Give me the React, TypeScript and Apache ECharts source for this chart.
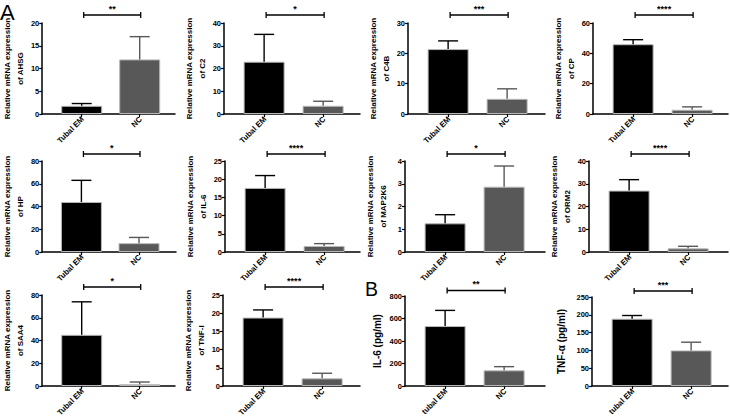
import React, { useEffect, useRef } from "react";
import * as echarts from "echarts";

const GENES = ["AHSG", "C2", "C4B", "CP", "HP", "IL-6", "MAP2K6", "ORM2", "SAA4", "TNF-I"];
const Y_TITLES = [
  ...GENES.map((g) => `Relative mRNA expression\nof ${g}`),
  "IL-6 (pg/ml)",
  "TNF-α (pg/ml)",
];
const CATEGORIES_A = ["Tubal EM", "NC"];
const CATEGORIES_B = ["tubal EM", "NC"];
const Y_MAX = [20, 40, 30, 60, 80, 25, 4, 40, 80, 25, 800, 250];
const Y_STEP = [5, 10, 10, 20, 20, 5, 1, 10, 20, 5, 200, 50];
const TUBAL_MEAN = [1.8, 23, 21.4, 46, 44, 17.6, 1.26, 27, 45, 18.8, 533, 189];
const TUBAL_UPPER = [2.3, 35, 24.1, 49, 63, 21, 1.64, 31.8, 74, 20.9, 672, 198];
const NC_MEAN = [12, 3.6, 5, 2.8, 7.8, 1.65, 2.87, 1.6, 1.5, 2.1, 139, 100];
const NC_UPPER = [17, 5.6, 8.3, 4.7, 12.8, 2.3, 3.78, 2.5, 3.5, 3.5, 172, 123];
const SIG = ["**", "*", "***", "****", "*", "****", "*", "****", "*", "****", "**", "***"];

// layout: left, top, width, height, nameGap, bracket offset
const LAYOUT = [
  [40, 23, 135, 91, 15, 8],
  [224, 23, 136, 91, 15, 8],
  [408, 23, 137, 91, 14, 8],
  [593, 23, 135, 91, 15, 8],
  [39, 161, 137, 91, 15, 7],
  [225, 161, 135, 91, 15, 7],
  [405, 161, 140, 91, 15, 7],
  [589, 161, 139, 91, 15, 7],
  [40, 295, 135, 91, 15, 8],
  [223, 295, 137, 91, 15, 8],
  [405, 296, 140, 90, 22, 5.5],
  [592, 297, 136, 89, 25, 6],
];

const FONT = "'Liberation Sans', Arial, Helvetica, sans-serif";
const TUBAL_COLOR = "#000000";
const NC_COLOR = "#585858";
const UNIT_PX = 59;
const X_MIN = -0.68;

export default function App() {
  const ref = useRef<HTMLDivElement>(null);

  useEffect(() => {
    if (!ref.current) return;
    const chart = echarts.init(ref.current, undefined, { renderer: "svg" });

    const grid: any[] = [];
    const xAxis: any[] = [];
    const yAxis: any[] = [];
    const series: any[] = [];

    for (let i = 0; i < 12; i++) {
      const [left, top, width, height, nameGap, brOff] = LAYOUT[i];
      const isB = i >= 10;
      grid.push({ left, top, width, height, containLabel: false });
      xAxis.push({
        type: "value",
        gridIndex: i,
        min: X_MIN,
        max: X_MIN + width / UNIT_PX,
        axisLine: { show: true, onZero: false, lineStyle: { color: "#000", width: 1.5 } },
        axisTick: { show: true, customValues: [0, 1], length: 3, lineStyle: { color: "#000", width: 1.2 } },
        axisLabel: { show: false },
        splitLine: { show: false },
      });
      yAxis.push({
        type: "value",
        gridIndex: i,
        min: 0,
        max: Y_MAX[i],
        interval: Y_STEP[i],
        axisLine: { show: true, onZero: false, lineStyle: { color: "#000", width: 1.5 } },
        axisTick: { show: true, length: 3, lineStyle: { color: "#000", width: 1.2 } },
        axisLabel: { fontSize: 7.5, fontWeight: "bold", color: "#000", margin: 3, fontFamily: FONT },
        splitLine: { show: false },
        name: Y_TITLES[i],
        nameLocation: "middle",
        nameRotate: 90,
        nameGap,
        nameTextStyle: {
          fontSize: isB ? 10 : 8,
          lineHeight: isB ? 12 : 13,
          fontWeight: "bold",
          color: "#000",
          fontFamily: FONT,
        },
      });
      series.push({
        type: "bar",
        xAxisIndex: i,
        yAxisIndex: i,
        barWidth: 41,
        itemStyle: { borderColor: "#b8b8b8", borderWidth: 1 },
        data: [
          { value: [0, TUBAL_MEAN[i]], itemStyle: { color: TUBAL_COLOR } },
          { value: [1, NC_MEAN[i]], itemStyle: { color: NC_COLOR } },
        ],
        z: 2,
      });
      // error bars
      series.push({
        type: "custom",
        xAxisIndex: i,
        yAxisIndex: i,
        clip: false,
        z: 3,
        data: [
          [0, TUBAL_MEAN[i], TUBAL_UPPER[i]],
          [1, NC_MEAN[i], NC_UPPER[i]],
        ],
        renderItem: (params: any, api: any) => {
          const x = api.value(0);
          const pm = api.coord([x, api.value(1)]);
          const pu = api.coord([x, api.value(2)]);
          const stroke = x === 0 ? TUBAL_COLOR : NC_COLOR;
          return {
            type: "group",
            children: [
              { type: "line", shape: { x1: pm[0], y1: pm[1], x2: pu[0], y2: pu[1] }, style: { stroke, lineWidth: 1.4 } },
              { type: "line", shape: { x1: pu[0] - 10, y1: pu[1], x2: pu[0] + 10, y2: pu[1] }, style: { stroke, lineWidth: 1.4 } },
            ],
          };
        },
      });
      // significance bracket
      series.push({
        type: "custom",
        xAxisIndex: i,
        yAxisIndex: i,
        clip: false,
        z: 3,
        data: [[0, 1, Y_MAX[i]]],
        renderItem: (params: any, api: any) => {
          const p0 = api.coord([api.value(0), api.value(2)]);
          const p1 = api.coord([api.value(1), api.value(2)]);
          const y = p0[1] - brOff;
          const x0 = p0[0] + 2;
          const x1 = p1[0] + 1;
          const st = { stroke: "#000", lineWidth: 1.3 };
          return {
            type: "group",
            children: [
              { type: "line", shape: { x1: x0, y1: y, x2: x1, y2: y }, style: st },
              { type: "line", shape: { x1: x0, y1: y - 3, x2: x0, y2: y + 3 }, style: st },
              { type: "line", shape: { x1: x1, y1: y - 3, x2: x1, y2: y + 3 }, style: st },
              {
                type: "text",
                x: (x0 + x1) / 2,
                y: y - 2,
                style: {
                  text: SIG[i],
                  fontSize: 9,
                  fontWeight: "bold",
                  fontFamily: FONT,
                  fill: "#000",
                  align: "center",
                  verticalAlign: "bottom",
                },
              },
            ],
          };
        },
      });
    }

    chart.setOption({
      animation: false,
      backgroundColor: "#fff",
      title: [
        { text: "A", left: 0, top: 1, padding: 0, textStyle: { fontSize: 22, fontWeight: "normal", color: "#000", fontFamily: FONT } },
        { text: "B", left: 365, top: 279, padding: 0, textStyle: { fontSize: 19.5, fontWeight: "normal", color: "#000", fontFamily: FONT } },
      ],
      grid,
      xAxis,
      yAxis,
      series,
    });

    // rotated category labels placed through the axes' own scales
    const labels: any[] = [];
    for (let i = 0; i < 12; i++) {
      const cats = i >= 10 ? CATEGORIES_B : CATEGORIES_A;
      cats.forEach((c, k) => {
        const p = chart.convertToPixel({ xAxisIndex: i, yAxisIndex: i }, [k, 0]) as number[];
        labels.push({
          type: "text",
          x: p[0] + 1,
          y: p[1] + 4,
          rotation: Math.PI / 4,
          silent: true,
          style: {
            text: c,
            fontSize: 7.8,
            fontWeight: "bold",
            fontFamily: FONT,
            fill: "#000",
            align: "right",
            verticalAlign: "middle",
            textAlign: "right",
            textVerticalAlign: "middle",
          },
        });
      });
    }
    chart.setOption({ graphic: labels });

    return () => chart.dispose();
  }, []);

  return (
    <div
      ref={ref}
      style={{ position: "absolute", left: 0, top: 0, width: 730, height: 418 }}
    />
  );
}
